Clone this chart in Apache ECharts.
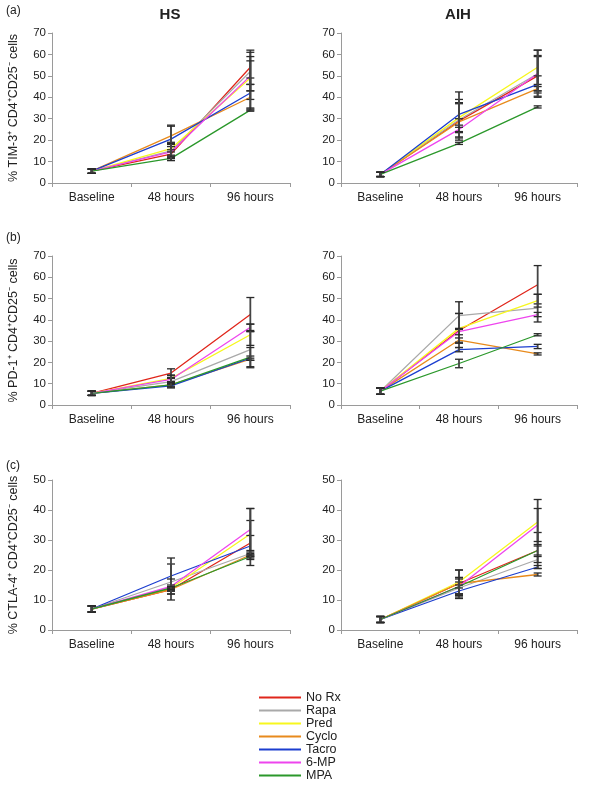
<!DOCTYPE html>
<html>
<head>
<meta charset="utf-8">
<script src="https://cdn.jsdelivr.net/npm/echarts@6/dist/echarts.min.js"></script>
<style>
html,body{margin:0;padding:0;background:#fff;}
#chart{width:593px;height:785px;}
</style>
</head>
<body>
<div id="chart"></div>
<script>
const categories = ['Baseline', '48 hours', '96 hours'];
const treatments = ['No Rx', 'Rapa', 'Pred', 'Cyclo', 'Tacro', '6-MP', 'MPA'];
const colors = ['#e0261b', '#a9a9a9', '#f7f71e', '#e88a1c', '#1c3ecf', '#ee45ee', '#2b982b'];

// Panel (a) TIM-3, HS
const tim3HS = [
  [5.5, 13.5, 54], [5.5, 15, 52], [5.5, 16, 49], [5.5, 22, 40],
  [5.5, 20.5, 42], [5.5, 14.5, 50], [5.5, 11.5, 34]
];
const tim3HSErr = [
  [1, 2, 8], [1, 3, 9], [1, 3, 10], [1, 5, 6],
  [1, 6, 7], [1, 4, 7], [1, 1, 0.5]
];
// Panel (a) TIM-3, AIH
const tim3AIH = [
  [4, 29, 50], [4, 29.5, 51], [4, 30.5, 54], [4, 28.5, 44],
  [4, 32, 46], [4, 25, 51], [4, 18.5, 35.5]
];
const tim3AIHErr = [
  [1, 8, 9.5], [1, 9.5, 8], [1, 7, 8], [1, 1.5, 1],
  [1, 10.5, 4], [1, 1, 11], [1, 0.5, 0.5]
];
// Panel (b) PD-1, HS
const pd1HS = [
  [5.5, 15, 42.5], [5.5, 11, 26], [5.5, 12.5, 33], [5.5, 9.5, 21.5],
  [5.5, 9, 22], [5.5, 12, 36.5], [5.5, 9.5, 22.5]
];
const pd1HSErr = [
  [1, 2, 8], [1, 1.5, 8.5], [1, 1.5, 5], [1, 1, 0.5],
  [1, 1, 1], [1, 2, 1.5], [1, 1, 4.5]
];
// Panel (b) PD-1, AIH
const pd1AIH = [
  [6.5, 35, 56.5], [6.5, 42, 45.5], [6.5, 36, 49], [6.5, 30.5, 24],
  [6.5, 26, 27.5], [6.5, 34.5, 42.5], [6.5, 19.5, 33]
];
const pd1AIHErr = [
  [1.5, 8, 9], [1.5, 6.5, 6.5], [1.5, 7, 3], [1.5, 1, 0.5],
  [1.5, 1, 1], [1.5, 1.5, 1], [1.5, 2, 0.5]
];
// Panel (c) CTLA-4, HS
const ctla4HS = [
  [7, 13.5, 29], [7, 16, 25.5], [7, 14, 32], [7, 13.5, 25],
  [7, 18, 28], [7, 14.5, 33.5], [7, 14, 24.5]
];
const ctla4HSErr = [
  [1, 0.5, 7.5], [1, 6, 0.5], [1, 1, 8.5], [1, 0.5, 0.5],
  [1, 6, 3.5], [1, 2.5, 7], [1, 0.5, 0.5]
];
// Panel (c) CTLA-4, AIH
const ctla4AIH = [
  [3.5, 15.5, 26.5], [3.5, 14, 23.5], [3.5, 16, 36], [3.5, 15.5, 18.5],
  [3.5, 13, 21], [3.5, 14.5, 35], [3.5, 14.5, 26.5]
];
const ctla4AIHErr = [
  [1, 4.5, 6], [1, 3.5, 1], [1, 4, 7.5], [1, 0.5, 0.5],
  [1, 1, 0.5], [1, 3, 5.5], [1, 2.5, 1.5]
];

const yAxisTitles = [
  '% TIM-3\u207A CD4\u207ACD25\u207B cells',
  '% PD-1\u207A CD4\u207ACD25\u207B cells',
  '% CTLA-4\u207A CD4\u207ACD25\u207B cells'
];
const yMax = [70, 70, 50];

const panels = [
  { vals: tim3HS, errs: tim3HSErr, row: 0, col: 0 },
  { vals: tim3AIH, errs: tim3AIHErr, row: 0, col: 1 },
  { vals: pd1HS, errs: pd1HSErr, row: 1, col: 0 },
  { vals: pd1AIH, errs: pd1AIHErr, row: 1, col: 1 },
  { vals: ctla4HS, errs: ctla4HSErr, row: 2, col: 0 },
  { vals: ctla4AIH, errs: ctla4AIHErr, row: 2, col: 1 }
];

const FONT = "'Liberation Sans', Arial, sans-serif";
const gridTops = [33, 256, 480];
const gridHeights = [150, 149, 150];
const gridLefts = [52, 341];
const gridWidths = [238, 236];

const grids = [], xAxes = [], yAxes = [], series = [];

function renderErr(params, api) {
  const x = api.value(0), lo = api.value(1), hi = api.value(2);
  const pLo = api.coord([x, lo]);
  const pHi = api.coord([x, hi]);
  const hw = 4;
  const style = { stroke: '#2a2a2a', lineWidth: 1.3 };
  const vstyle = { stroke: '#444', lineWidth: 1.8 };
  return {
    type: 'group',
    children: [
      { type: 'line', shape: { x1: pLo[0], y1: pLo[1], x2: pHi[0], y2: pHi[1] }, style: vstyle },
      { type: 'line', shape: { x1: pLo[0] - hw, y1: pLo[1], x2: pLo[0] + hw, y2: pLo[1] }, style: style },
      { type: 'line', shape: { x1: pHi[0] - hw, y1: pHi[1], x2: pHi[0] + hw, y2: pHi[1] }, style: style }
    ]
  };
}

panels.forEach(function (p, i) {
  grids.push({
    left: gridLefts[p.col], top: gridTops[p.row],
    width: gridWidths[p.col], height: gridHeights[p.row]
  });
  xAxes.push({
    type: 'category', gridIndex: i, data: categories, boundaryGap: true,
    axisLine: { lineStyle: { color: '#9a9a9a', width: 1 } },
    axisTick: { show: true, length: 4, lineStyle: { color: '#9a9a9a' } },
    axisLabel: { color: '#222', fontSize: 12, fontFamily: FONT, margin: 9 },
    splitLine: { show: false }
  });
  yAxes.push({
    type: 'value', gridIndex: i, min: 0, max: yMax[p.row], interval: 10,
    axisLine: { show: true, lineStyle: { color: '#9a9a9a', width: 1 } },
    axisTick: { show: true, length: 4, lineStyle: { color: '#9a9a9a' } },
    axisLabel: { color: '#222', fontSize: 11.5, fontFamily: FONT, margin: 6 },
    splitLine: { show: false },
    name: p.col === 0 ? yAxisTitles[p.row] : '',
    nameLocation: 'middle', nameGap: 32,
    nameTextStyle: { color: '#222', fontSize: 12.5, fontFamily: FONT }
  });
  p.vals.forEach(function (v, k) {
    series.push({
      type: 'line', name: treatments[k], xAxisIndex: i, yAxisIndex: i,
      data: v, symbol: 'none', silent: true, animation: false,
      lineStyle: { color: colors[k], width: 1.3 },
      itemStyle: { color: colors[k] }
    });
  });
  const errData = [];
  p.vals.forEach(function (v, k) {
    v.forEach(function (m, c) {
      const e = p.errs[k][c];
      errData.push([c, m - e, m + e]);
    });
  });
  series.push({
    type: 'custom', xAxisIndex: i, yAxisIndex: i, renderItem: renderErr,
    data: errData, encode: { x: 0, y: [1, 2] }, silent: true, animation: false, z: 5
  });
});

const option = {
  animation: false,
  backgroundColor: '#fff',
  title: [
    { text: 'HS', left: 165, top: 2, textAlign: 'center',
      textStyle: { fontSize: 15, fontWeight: 'bold', fontFamily: FONT, color: '#222' } },
    { text: 'AIH', left: 453, top: 2, textAlign: 'center',
      textStyle: { fontSize: 15, fontWeight: 'bold', fontFamily: FONT, color: '#222' } },
    { text: '(a)', left: 1, top: 0, textStyle: { fontSize: 12, fontWeight: 'normal', fontFamily: FONT, color: '#222' } },
    { text: '(b)', left: 1, top: 227, textStyle: { fontSize: 12, fontWeight: 'normal', fontFamily: FONT, color: '#222' } },
    { text: '(c)', left: 1, top: 455, textStyle: { fontSize: 12, fontWeight: 'normal', fontFamily: FONT, color: '#222' } }
  ],
  legend: {
    data: treatments, orient: 'vertical', left: 259, top: 691, height: 100,
    padding: 0,
    itemWidth: 42, itemHeight: 2, itemGap: 0, icon: 'rect',
    selectedMode: false,
    textStyle: { fontSize: 12.5, fontFamily: FONT, color: '#222', lineHeight: 13, padding: [0, 0, 0, 0] }
  },
  grid: grids,
  xAxis: xAxes,
  yAxis: yAxes,
  series: series
};

const chart = echarts.init(document.getElementById('chart'), null, { renderer: 'canvas' });
chart.setOption(option);
</script>
</body>
</html>
